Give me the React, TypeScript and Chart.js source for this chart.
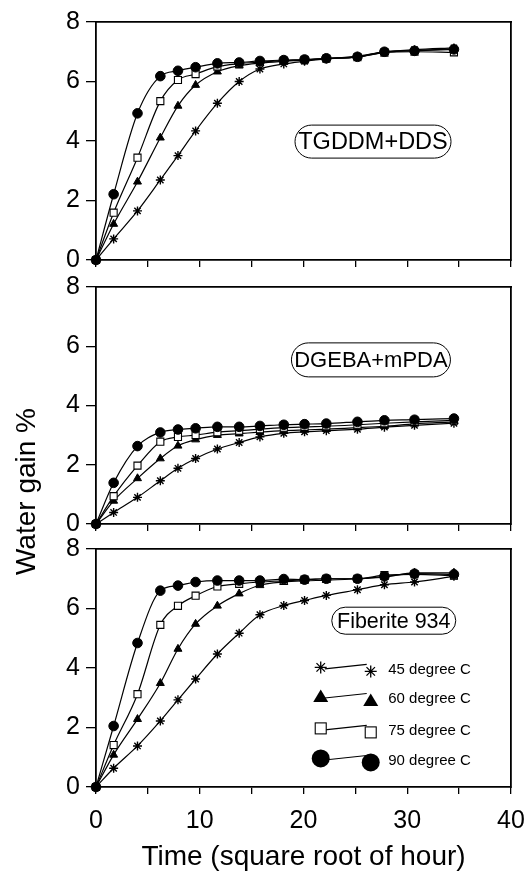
import React, { useEffect, useRef } from 'react';
import { Chart, registerables } from 'chart.js';

Chart.register(...registerables);

// ---------------- data ----------------
const timeSqrtHour = [0, 1.7, 4.0, 6.2, 7.9, 9.6, 11.7, 13.8, 15.8, 18.1, 20.1, 22.2, 25.2, 27.8, 30.7, 34.5];

const seriesNames = ['45 degree C', '60 degree C', '75 degree C', '90 degree C'];
const panelNames = ['TGDDM+DDS', 'DGEBA+mPDA', 'Fiberite 934'];

const tgddm45 = [0, 0.71, 1.65, 2.69, 3.51, 4.34, 5.27, 6.0, 6.42, 6.59, 6.68, 6.76, 6.85, 7.0, 7.07, 7.13];
const tgddm60 = [0, 1.21, 2.63, 4.11, 5.18, 5.88, 6.33, 6.53, 6.62, 6.68, 6.72, 6.77, 6.83, 6.98, 7.04, 7.1];
const tgddm75 = [0, 1.59, 3.44, 5.34, 6.05, 6.25, 6.5, 6.6, 6.65, 6.7, 6.73, 6.77, 6.82, 6.97, 7.0, 6.98];
const tgddm90 = [0, 2.21, 4.93, 6.18, 6.36, 6.48, 6.61, 6.64, 6.69, 6.72, 6.74, 6.78, 6.83, 7.0, 7.03, 7.08];

const dgeba45 = [0, 0.39, 0.9, 1.46, 1.88, 2.21, 2.53, 2.75, 2.94, 3.06, 3.11, 3.15, 3.2, 3.27, 3.33, 3.4];
const dgeba60 = [0, 0.78, 1.54, 2.21, 2.64, 2.85, 3.0, 3.05, 3.1, 3.15, 3.18, 3.2, 3.25, 3.3, 3.38, 3.45];
const dgeba75 = [0, 0.94, 1.97, 2.78, 2.94, 3.0, 3.1, 3.15, 3.2, 3.25, 3.28, 3.3, 3.35, 3.4, 3.45, 3.5];
const dgeba90 = [0, 1.39, 2.63, 3.09, 3.19, 3.23, 3.28, 3.28, 3.31, 3.35, 3.37, 3.39, 3.45, 3.5, 3.52, 3.56];

const fiberite45 = [0, 0.63, 1.38, 2.22, 2.93, 3.63, 4.47, 5.17, 5.79, 6.1, 6.27, 6.44, 6.63, 6.8, 6.89, 7.08];
const fiberite60 = [0, 1.08, 2.28, 3.49, 4.64, 5.48, 6.09, 6.5, 6.78, 6.89, 6.93, 6.95, 7.0, 7.05, 7.2, 7.2];
const fiberite75 = [0, 1.41, 3.12, 5.45, 6.09, 6.43, 6.74, 6.83, 6.89, 6.93, 6.97, 7.0, 7.0, 7.12, 7.15, 7.1];
const fiberite90 = [0, 2.05, 4.84, 6.6, 6.77, 6.89, 6.94, 6.94, 6.94, 6.99, 6.97, 7.0, 7.0, 7.08, 7.17, 7.15];

const xTickLabels = ['0', '10', '20', '30', '40'];
const yTickLabels = ['0', '2', '4', '6', '8'];
const xTitle = 'Time (square root of hour)';
const yTitle = 'Water gain %';

const panelSeries = [
  [tgddm45, tgddm60, tgddm75, tgddm90],
  [dgeba45, dgeba60, dgeba75, dgeba90],
  [fiberite45, fiberite60, fiberite75, fiberite90],
];

// ---------------- layout / style ----------------
const FONT = "'Liberation Sans', Arial, Helvetica, sans-serif";
const PAGE_W = 531;
const PAGE_H = 874;
const PLOT_LEFT = 96;
const PLOT_RIGHT = 511;

const PANEL_LAYOUT = [
  { top: 22, bottom: 260, axisH: 12, showX: false },
  { top: 287, bottom: 524, axisH: 12, showX: false },
  { top: 549, bottom: 787, axisH: 87, showX: true },
];

const BOXES = [
  { cx: 26.7, cy: 3.98, font: 23.5, w: 156, h: 33 },
  { cx: 26.5, cy: 5.54, font: 22, w: 159, h: 34 },
  { cx: 28.7, cy: 5.59, font: 21.5, w: 124, h: 27 },
];

const SERIES_STYLE = [
  { pointStyle: 'star', pointRadius: 4.5, pointBackgroundColor: '#000', pointBorderWidth: 1.4 },
  { pointStyle: 'triangle', pointRadius: 4.6, pointBackgroundColor: '#000', pointBorderWidth: 1 },
  { pointStyle: 'rect', pointRadius: 5, pointBackgroundColor: '#fff', pointBorderWidth: 1.1 },
  { pointStyle: 'circle', pointRadius: 4.8, pointBackgroundColor: '#000', pointBorderWidth: 1 },
];

// legend anchors (data coords in the Fiberite panel)
const LEGEND = { x1: 21.66, x2: 26.48, xt: 28.17, rows: [4.02, 3.04, 1.97, 0.96] };

function drawMarker(ctx: CanvasRenderingContext2D, kind: number, x: number, y: number) {
  ctx.save();
  ctx.strokeStyle = '#000';
  ctx.fillStyle = '#000';
  ctx.lineWidth = 1.3;
  if (kind === 0) {
    const r = 6;
    ctx.beginPath();
    for (let k = 0; k < 4; k++) {
      const a = (k * Math.PI) / 4;
      ctx.moveTo(x - r * Math.cos(a), y - r * Math.sin(a));
      ctx.lineTo(x + r * Math.cos(a), y + r * Math.sin(a));
    }
    ctx.stroke();
  } else if (kind === 1) {
    ctx.beginPath();
    ctx.moveTo(x, y - 7);
    ctx.lineTo(x + 7.5, y + 5.5);
    ctx.lineTo(x - 7.5, y + 5.5);
    ctx.closePath();
    ctx.fill();
  } else if (kind === 2) {
    ctx.fillStyle = '#fff';
    ctx.fillRect(x - 5.5, y - 5.5, 11, 11);
    ctx.lineWidth = 1.1;
    ctx.strokeRect(x - 5.5, y - 5.5, 11, 11);
  } else {
    ctx.beginPath();
    ctx.arc(x, y, 9, 0, Math.PI * 2);
    ctx.fill();
  }
  ctx.restore();
}

function makePlugins(panel: number) {
  const box = BOXES[panel];
  const plugins: any[] = [
    {
      id: 'panelBox' + panel,
      afterDatasetsDraw(chart: any) {
        const { ctx, scales } = chart;
        const x = scales.x.getPixelForValue(box.cx);
        const y = scales.y.getPixelForValue(box.cy);
        const { w, h } = box;
        const r = h / 2;
        ctx.save();
        ctx.beginPath();
        ctx.moveTo(x - w / 2 + r, y - h / 2);
        ctx.lineTo(x + w / 2 - r, y - h / 2);
        ctx.arc(x + w / 2 - r, y, r, -Math.PI / 2, Math.PI / 2);
        ctx.lineTo(x - w / 2 + r, y + h / 2);
        ctx.arc(x - w / 2 + r, y, r, Math.PI / 2, (3 * Math.PI) / 2);
        ctx.closePath();
        ctx.fillStyle = '#fff';
        ctx.fill();
        ctx.lineWidth = 1;
        ctx.strokeStyle = '#000';
        ctx.stroke();
        ctx.font = `${box.font}px ${FONT}`;
        ctx.fillStyle = '#000';
        ctx.textAlign = 'center';
        ctx.textBaseline = 'middle';
        ctx.fillText(panelNames[panel], x, y + 1);
        ctx.restore();
      },
    },
  ];
  if (panel === 1) {
    plugins.push({
      id: 'yTitle',
      afterDraw(chart: any) {
        const { ctx } = chart;
        ctx.save();
        ctx.translate(27, 491.5);
        ctx.rotate(-Math.PI / 2);
        ctx.font = `28px ${FONT}`;
        ctx.fillStyle = '#000';
        ctx.textAlign = 'center';
        ctx.textBaseline = 'middle';
        ctx.fillText(yTitle, 0, 0);
        ctx.restore();
      },
    });
  }
  if (panel === 2) {
    plugins.push({
      id: 'markerLegend',
      afterDatasetsDraw(chart: any) {
        const { ctx, scales } = chart;
        const x1 = scales.x.getPixelForValue(LEGEND.x1);
        const x2 = scales.x.getPixelForValue(LEGEND.x2);
        const xt = scales.x.getPixelForValue(LEGEND.xt);
        LEGEND.rows.forEach((rv, i) => {
          const y = scales.y.getPixelForValue(rv);
          ctx.save();
          ctx.strokeStyle = '#000';
          ctx.lineWidth = 1.1;
          ctx.beginPath();
          ctx.moveTo(x1 + 4, y + 1.5);
          ctx.lineTo(x2 - 4, y - 3);
          ctx.stroke();
          ctx.restore();
          drawMarker(ctx, i, x1, y);
          drawMarker(ctx, i, x2, y + 4);
          ctx.save();
          ctx.font = `15px ${FONT}`;
          ctx.fillStyle = '#000';
          ctx.textAlign = 'left';
          ctx.textBaseline = 'middle';
          ctx.fillText(seriesNames[i], xt, y + 2.5);
          ctx.restore();
        });
      },
    });
  }
  return plugins;
}

function buildConfig(panel: number): any {
  const L = PANEL_LAYOUT[panel];
  const series = panelSeries[panel];
  const datasets = series.map((ys, i) => ({
    label: seriesNames[i],
    data: ys.map((y, j) => ({ x: timeSqrtHour[j], y })),
    borderColor: '#000',
    borderWidth: 1.2,
    pointBorderColor: '#000',
    ...SERIES_STYLE[i],
    pointHoverRadius: SERIES_STYLE[i].pointRadius,
    showLine: true,
    fill: false,
    tension: 0.4,
    cubicInterpolationMode: 'monotone',
    clip: false,
    order: 4 - i,
  }));

  const tickGrid = (len: number) => ({
    display: true,
    drawOnChartArea: false,
    drawTicks: true,
    tickLength: len,
    color: '#000',
    lineWidth: 1.3,
  });
  const border = { display: true, color: '#000', width: 1.8 };

  return {
    type: 'line',
    data: { datasets },
    options: {
      animation: false,
      responsive: false,
      devicePixelRatio: 1,
      events: [],
      layout: {
        padding: {
          top: L.top,
          left: 0,
          right: PAGE_W - PLOT_RIGHT,
          bottom: PAGE_H - L.bottom - L.axisH,
        },
      },
      plugins: { legend: { display: false }, tooltip: { enabled: false } },
      scales: {
        x: {
          type: 'linear',
          position: 'bottom',
          min: 0,
          max: 40,
          ticks: {
            stepSize: 5,
            display: L.showX,
            autoSkip: false,
            maxRotation: 0,
            padding: 5,
            color: '#000',
            font: { family: FONT, size: 25, lineHeight: 1.75 },
            callback: (v: any) => (xTickLabels.includes(String(v)) ? String(v) : ''),
          },
          grid: tickGrid(7),
          border,
          title: L.showX
            ? {
                display: true,
                text: xTitle,
                color: '#000',
                font: { family: FONT, size: 28 },
                padding: { top: 0, bottom: 0 },
              }
            : { display: false },
          afterFit: (s: any) => {
            s.height = L.axisH;
          },
        },
        y: {
          type: 'linear',
          position: 'left',
          min: 0,
          max: 8,
          ticks: {
            stepSize: 1,
            padding: 6,
            color: '#000',
            font: { family: FONT, size: 25 },
            callback: (v: any) => (yTickLabels.includes(String(v)) ? String(v) : ''),
          },
          grid: tickGrid(10),
          border,
          afterFit: (s: any) => {
            s.width = PLOT_LEFT;
          },
        },
        xTop: {
          type: 'linear',
          position: 'top',
          display: true,
          ticks: { display: false },
          grid: { display: false, drawTicks: false },
          border,
          afterFit: (s: any) => {
            s.height = 0;
          },
        },
        yRight: {
          type: 'linear',
          position: 'right',
          display: true,
          ticks: { display: false },
          grid: { display: false, drawTicks: false },
          border,
          afterFit: (s: any) => {
            s.width = 0;
          },
        },
      },
    },
    plugins: makePlugins(panel),
  };
}

function Panel({ index }: { index: number }) {
  const ref = useRef<HTMLCanvasElement | null>(null);
  useEffect(() => {
    if (!ref.current) return;
    const chart = new Chart(ref.current, buildConfig(index));
    return () => chart.destroy();
  }, [index]);
  return (
    <canvas
      ref={ref}
      width={PAGE_W}
      height={PAGE_H}
      style={{ position: 'absolute', left: 0, top: 0, width: PAGE_W, height: PAGE_H }}
    />
  );
}

export default function App() {
  return (
    <div
      style={{
        position: 'absolute',
        left: 0,
        top: 0,
        width: PAGE_W,
        height: PAGE_H,
        background: '#fff',
        overflow: 'hidden',
      }}
    >
      <Panel index={0} />
      <Panel index={1} />
      <Panel index={2} />
    </div>
  );
}
